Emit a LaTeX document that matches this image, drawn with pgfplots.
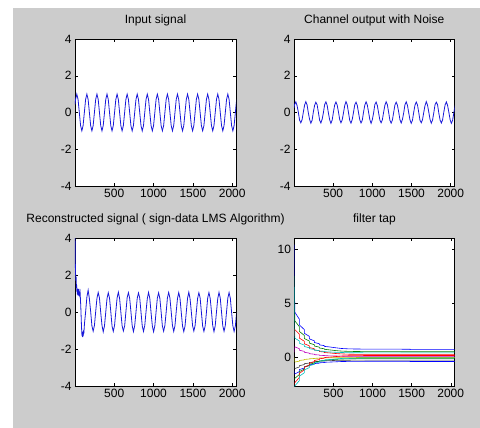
\documentclass[border=0pt]{standalone}
\usepackage{pgfplots}
\usepackage{pgfplotstable}
\pgfplotsset{compat=1.18}
\usepackage{fontspec}
\setmainfont{Liberation Sans}
\definecolor{figgray}{rgb}{0.8,0.8,0.8}
\definecolor{sigblue}{rgb}{0.1,0.1,0.85}
\definecolor{mg}{rgb}{0,0.5,0}
\definecolor{mr}{rgb}{1,0,0}
\definecolor{mc}{rgb}{0,0.75,0.75}
\definecolor{mm}{rgb}{0.75,0,0.75}
\definecolor{my}{rgb}{0.75,0.75,0}
\definecolor{mk}{rgb}{0.25,0.25,0.25}
\definecolor{mb}{rgb}{0,0,1}

\pgfplotstableread{
x in ch rec
1 0.43 0.25 nan
8 0.71 0.42 nan
24 1 0.58 nan
40 0.71 0.38 nan
56 0 0.02 nan
72 -0.71 -0.41 nan
88 -1 -0.56 nan
104 -0.71 -0.39 nan
120 0 0.01 nan
136 0.71 0.40 0.00
152 1 0.59 0.80
168 0.71 0.41 1.18
184 0 -0.02 0.72
200 -0.71 -0.38 0.03
216 -1 -0.58 -0.75
232 -0.71 -0.42 -1.04
248 0 0.03 -0.73
264 0.71 0.39 0.02
280 1 0.56 0.74
296 0.71 0.42 1.06
312 0 0.01 0.76
328 -0.71 -0.42 -0.02
344 -1 -0.57 -0.72
360 -0.71 -0.37 -1.07
376 0 -0.01 -0.75
392 0.71 0.43 -0.01
408 1 0.58 0.73
424 0.71 0.39 1.04
440 0 -0.03 0.75
456 -0.71 -0.40 0.02
472 -1 -0.59 -0.76
488 -0.71 -0.41 -1.05
504 0 0.02 -0.72
520 0.71 0.41 0.03
536 1 0.57 0.75
552 0.71 0.40 1.07
568 0 0.03 0.73
584 -0.71 -0.39 -0.01
600 -1 -0.56 -0.74
616 -0.71 -0.40 -1.03
632 0 -0.02 -0.76
648 0.71 0.38 0.00
664 1 0.59 0.77
680 0.71 0.42 1.05
696 0 0.00 0.74
712 -0.71 -0.43 0.02
728 -1 -0.58 -0.73
744 -0.71 -0.38 -1.06
760 0 0.01 -0.74
776 0.71 0.42 -0.02
792 1 0.56 0.74
808 0.71 0.39 1.03
824 0 -0.01 0.76
840 -0.71 -0.40 0.00
856 -1 -0.57 -0.75
872 -0.71 -0.42 -1.05
888 0 0.02 -0.73
904 0.71 0.40 0.01
920 1 0.58 0.72
936 0.71 0.41 1.06
952 0 0.02 0.74
968 -0.71 -0.38 -0.03
984 -1 -0.59 -0.74
1000 -0.71 -0.39 -1.07
1016 0 -0.03 -0.75
1032 0.71 0.43 0.02
1048 1 0.57 0.75
1064 0.71 0.38 1.04
1080 0 -0.02 0.73
1096 -0.71 -0.41 0.01
1112 -1 -0.56 -0.76
1128 -0.71 -0.40 -1.04
1144 0 0.01 -0.72
1160 0.71 0.39 -0.01
1176 1 0.59 0.76
1192 0.71 0.42 1.06
1208 0 0.01 0.75
1224 -0.71 -0.42 0.02
1240 -1 -0.58 -0.73
1256 -0.71 -0.41 -1.05
1272 0 0.00 -0.74
1288 0.71 0.41 0.03
1304 1 0.56 0.73
1320 0.71 0.40 1.05
1336 0 0.03 0.74
1352 -0.71 -0.39 -0.02
1368 -1 -0.57 -0.75
1384 -0.71 -0.38 -1.06
1400 0 -0.02 -0.76
1416 0.71 0.42 0.00
1432 1 0.58 0.75
1448 0.71 0.39 1.07
1464 0 -0.01 0.72
1480 -0.71 -0.40 0.01
1496 -1 -0.59 -0.74
1512 -0.71 -0.42 -1.03
1528 0 0.02 -0.73
1544 0.71 0.40 0.02
1560 1 0.57 0.74
1576 0.71 0.41 1.04
1592 0 0.00 0.76
1608 -0.71 -0.43 -0.01
1624 -1 -0.56 -0.76
1640 -0.71 -0.39 -1.05
1656 0 0.01 -0.75
1672 0.71 0.38 -0.02
1688 1 0.59 0.76
1704 0.71 0.40 1.05
1720 0 0.02 0.73
1736 -0.71 -0.38 0.03
1752 -1 -0.58 -0.73
1768 -0.71 -0.41 -1.06
1784 0 -0.01 -0.74
1800 0.71 0.43 0.01
1816 1 0.56 0.73
1832 0.71 0.42 1.06
1848 0 -0.03 0.75
1864 -0.71 -0.41 0.00
1880 -1 -0.57 -0.75
1896 -0.71 -0.40 -1.04
1912 0 0.03 -0.73
1928 0.71 0.41 0.02
1944 1 0.58 0.75
1960 0.71 0.38 1.05
1976 0 0.01 0.74
1992 -0.71 -0.39 -0.02
2008 -1 -0.59 -0.74
2024 -0.71 -0.42 -1.05
2040 0 0.00 -0.75
2056 0.71 0.40 0.00
}\sigdata

\pgfplotsset{
  mat/.style={
    scale only axis, anchor=south west,
    xmin=1, xmax=2048,
    xtick={500,1000,1500,2000}, xticklabels={500,1000,1500,2000},
    tick align=inside, major tick length=3pt,
    tick style={black, line width=0.5pt},
    axis line style={line width=0.6pt},
    ticklabel style={font=\fontsize{12}{14}\selectfont},
    title style={at={(0.5,1)}, anchor=base, yshift=10pt, font=\fontsize{12}{14}\selectfont},
    axis background/.style={fill=white},
  },
  sig/.style={mat, ymin=-4, ymax=4, ytick={-4,-2,0,2,4}, yticklabels={-4,-2,0,2,4}},
}

\begin{document}
\begin{tikzpicture}[x=1pt,y=1pt]
\useasboundingbox (0,0) rectangle (480,-428);
\fill[white] (0,0) rectangle (480,-428);
\fill[figgray] (13,-8) rectangle (480,-428);

\begin{axis}[sig, at={(75pt,-186pt)}, width=161pt, height=147pt, title={Input signal}]
\addplot[sigblue, line width=0.8pt] table[x=x, y=in] {\sigdata};
\end{axis}

\begin{axis}[sig, at={(294pt,-186pt)}, width=160.5pt, height=147pt, title={Channel output with Noise}]
\addplot[sigblue, line width=0.8pt] table[x=x, y=ch] {\sigdata};
\end{axis}

\begin{axis}[sig, at={(75pt,-386pt)}, width=161pt, height=148pt, title={Reconstructed signal ( sign-data LMS Algorithm)}]
\addplot[sigblue, line width=0.8pt] coordinates {(1,4.6)(3,3.4)(6,2.4)(9,2.0)(12,1.7)(15,1.9)(18,1.3)(21,1.5)(24,1.1)(27,1.3)(30,0.95)(34,1.25)(38,0.9)(42,1.15)(46,1.0)(50,1.25)(54,0.85)(58,1.1)(62,0.95)(66,1.05)(70,0.7)(74,0.35)(78,-0.1)(82,-0.6)(86,-1.0)(90,-1.3)(94,-1.05)(98,-1.35)(102,-1.1)(106,-1.3)(110,-1.0)(114,-1.15)(118,-0.85)(122,-0.6)(128,-0.35)(136,0.0)};
\addplot[sigblue, line width=0.8pt] table[x=x, y=rec] {\sigdata};
\end{axis}

\begin{axis}[mat, at={(294.5pt,-386pt)}, width=160pt, height=148pt, title={filter tap},
  ymin=-2.6, ymax=11, ytick={0,5,10}, yticklabels={0,5,10}]
\pgfplotsset{every axis plot/.append style={line width=0.6pt}}
\addplot[mb] coordinates {(1,10.4)(4,4.20)(63,3.54)(64,3.01)(127,2.58)(128,2.24)(191,1.96)(192,1.73)(255,1.55)(256,1.40)(319,1.28)(320,1.18)(383,1.11)(384,1.04)(450,0.99)(520,0.92)(600,0.85)(700,0.81)(900,0.79)(1480,0.78)(1481,0.74)(2048,0.74)};
\addplot[mg] coordinates {(1,7.5)(4,3.40)(63,2.85)(64,2.41)(127,2.05)(128,1.76)(191,1.53)(192,1.34)(255,1.19)(256,1.07)(319,0.97)(320,0.89)(383,0.82)(384,0.77)(450,0.72)(520,0.66)(600,0.61)(700,0.58)(900,0.56)(1480,0.55)(1481,0.55)(2048,0.55)};
\addplot[mr] coordinates {(1,2.0)(4,2.60)(63,2.16)(64,1.80)(127,1.51)(128,1.28)(191,1.09)(192,0.94)(255,0.82)(256,0.72)(319,0.64)(320,0.57)(383,0.52)(384,0.48)(450,0.44)(520,0.39)(600,0.35)(700,0.32)(900,0.30)(1480,0.30)(1481,0.30)(2048,0.30)};
\addplot[mc] coordinates {(1,6.5)(4,1.80)(63,1.54)(64,1.33)(127,1.16)(128,1.03)(191,0.91)(192,0.83)(255,0.75)(256,0.69)(319,0.65)(320,0.61)(383,0.58)(384,0.55)(450,0.53)(520,0.50)(600,0.48)(700,0.46)(900,0.45)(1480,0.45)(1481,0.45)(2048,0.45)};
\addplot[mm] coordinates {(1,0.5)(4,1.00)(63,0.83)(64,0.69)(127,0.58)(128,0.50)(191,0.42)(192,0.37)(255,0.32)(256,0.28)(319,0.25)(320,0.22)(383,0.20)(384,0.19)(450,0.17)(520,0.16)(600,0.14)(700,0.13)(900,0.12)(1480,0.12)(1481,0.12)(2048,0.12)};
\addplot[my] coordinates {(1,0.0)(4,-0.40)(63,-0.32)(64,-0.25)(127,-0.20)(128,-0.16)(191,-0.12)(192,-0.10)(255,-0.07)(256,-0.06)(319,-0.04)(320,-0.03)(383,-0.02)(384,-0.01)(450,-0.01)(520,0.00)(600,0.01)(700,0.01)(900,0.02)(1480,0.02)(1481,0.02)(2048,0.02)};
\addplot[mk] coordinates {(1,-0.5)(4,-1.00)(63,-0.85)(64,-0.73)(127,-0.63)(128,-0.55)(191,-0.49)(192,-0.44)(255,-0.40)(256,-0.36)(319,-0.34)(320,-0.31)(383,-0.30)(384,-0.28)(450,-0.27)(520,-0.25)(600,-0.24)(700,-0.23)(900,-0.22)(1480,-0.22)(1481,-0.22)(2048,-0.22)};
\addplot[mb] coordinates {(1,-1.2)(4,-1.50)(63,-1.28)(64,-1.09)(127,-0.95)(128,-0.83)(191,-0.73)(192,-0.66)(255,-0.59)(256,-0.54)(319,-0.50)(320,-0.47)(383,-0.44)(384,-0.42)(450,-0.40)(520,-0.38)(600,-0.35)(700,-0.34)(900,-0.33)(1480,-0.33)(1481,-0.35)(2048,-0.35)};
\addplot[mg] coordinates {(1,-2.0)(4,-1.90)(63,-1.55)(64,-1.27)(127,-1.04)(128,-0.86)(191,-0.71)(192,-0.59)(255,-0.49)(256,-0.41)(319,-0.35)(320,-0.30)(383,-0.26)(384,-0.22)(450,-0.19)(520,-0.15)(600,-0.12)(700,-0.10)(900,-0.08)(1480,-0.08)(1481,-0.08)(2048,-0.08)};
\addplot[mr] coordinates {(1,-2.5)(4,-2.30)(63,-1.82)(64,-1.43)(127,-1.12)(128,-0.87)(191,-0.66)(192,-0.50)(255,-0.36)(256,-0.25)(319,-0.17)(320,-0.10)(383,-0.04)(384,0.01)(450,0.05)(520,0.10)(600,0.15)(700,0.18)(900,0.20)(1480,0.20)(1481,0.20)(2048,0.20)};
\addplot[mc] coordinates {(1,-2.9)(4,-2.60)(63,-2.11)(64,-1.70)(127,-1.38)(128,-1.12)(191,-0.91)(192,-0.74)(255,-0.60)(256,-0.49)(319,-0.40)(320,-0.32)(383,-0.27)(384,-0.22)(450,-0.18)(520,-0.12)(600,-0.07)(700,-0.05)(900,-0.02)(1480,-0.02)(1481,-0.02)(2048,-0.02)};
\end{axis}
\end{tikzpicture}
\end{document}
